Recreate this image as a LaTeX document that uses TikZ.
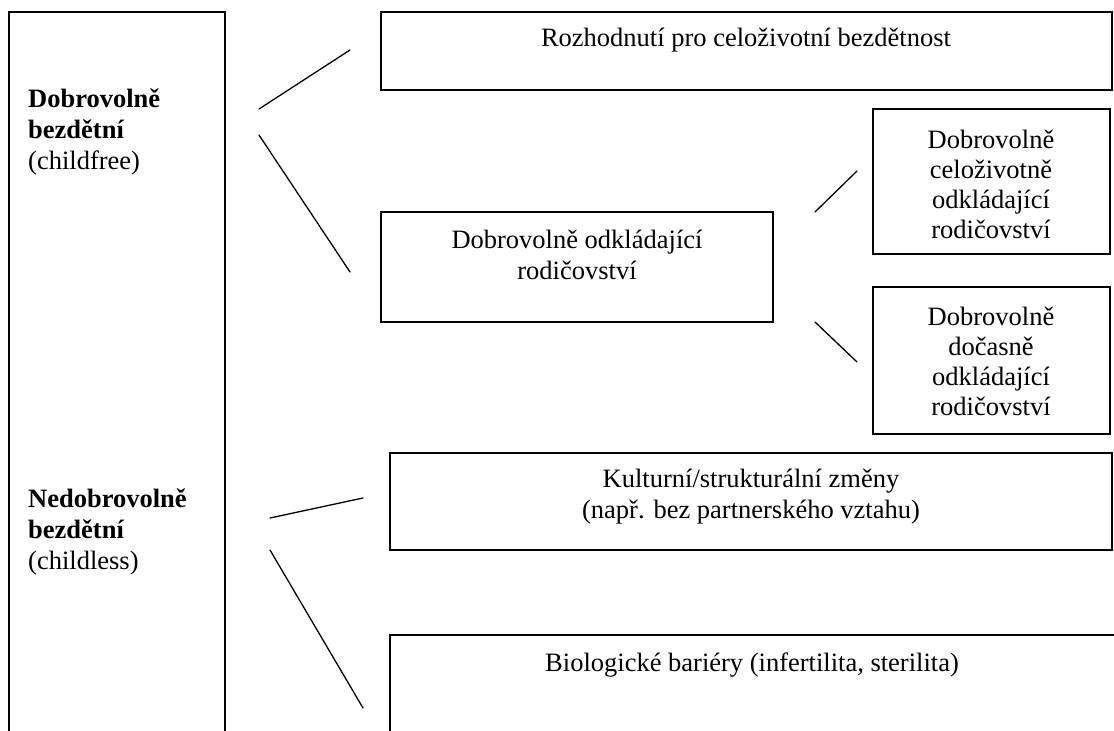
\documentclass[tikz,border=0pt]{standalone}
\usepackage{fontspec}
\setmainfont{Liberation Serif}
\usepackage{tikz}
\tikzset{
  frame/.style={draw=black, line width=1.7pt, inner sep=0pt},
  conn/.style={draw=black, line width=1.3pt, line cap=round},
  txt/.style={inner sep=0pt, align=center, font=\fontsize{26.5}{30}\selectfont},
  txtw/.style={txt, font=\fontsize{26.5}{31}\selectfont},
  side/.style={inner sep=0pt, align=left, anchor=west, font=\fontsize{26.5}{31}\selectfont},
}

\begin{document}
\begin{tikzpicture}[x=1pt, y=-1pt]
  \useasboundingbox (0,0) rectangle (1114,731);
  \clip (0,0) rectangle (1114,731);
  % frames
  \node[frame, minimum width=216pt, minimum height=788pt] (typy) at (117,406) {};
  \node[frame, minimum width=731pt, minimum height=78pt] (rozh) at (746.5,51) {};
  \node[frame, minimum width=392pt, minimum height=110pt] (odkl) at (577,267) {};
  \node[frame, minimum width=237pt, minimum height=145pt] (celoz) at (991.5,181.5) {};
  \node[frame, minimum width=237pt, minimum height=147pt] (docas) at (991.5,360.5) {};
  \node[frame, minimum width=722pt, minimum height=97pt] (kult) at (751,501.5) {};
  \node[frame, minimum width=750pt, minimum height=165pt] (biol) at (765,717.5) {};
  % texts
  \node[side] (cfree) at (28,132) {\textbf{Dobrovolně}\\\textbf{bezdětní}\\(childfree)};
  \node[side] (cless) at (28,532) {\textbf{Nedobrovolně}\\\textbf{bezdětní}\\(childless)};
  \node[txt] (rozh-t) at (746,40) {Rozhodnutí pro celoživotní bezdětnost};
  \node[txtw] (odkl-t) at (577,255) {Dobrovolně odkládající\\rodičovství};
  \node[txt] (celoz-t) at (991,184) {Dobrovolně\\celoživotně\\odkládající\\rodičovství};
  \node[txt] (docas-t) at (991,361) {Dobrovolně\\dočasně\\odkládající\\rodičovství};
  \node[txtw] (kult-t) at (751,497) {Kulturní/strukturální změny\\(např. bez partnerského vztahu)};
  \node[txt] (biol-t) at (752,665) {Biologické bariéry (infertilita, sterilita)};
  % connectors
  \coordinate (f1) at (259,109);  \coordinate (f2) at (350,50);
  \coordinate (f3) at (259,135);  \coordinate (f4) at (350,272);
  \coordinate (o1) at (815,212);  \coordinate (o2) at (857,171);
  \coordinate (o3) at (815,322);  \coordinate (o4) at (857,362);
  \coordinate (n1) at (270,518);  \coordinate (n2) at (363,498);
  \coordinate (n3) at (270,550);  \coordinate (n4) at (363,708);
  \draw[conn] (f1) -- (f2);
  \draw[conn] (f3) -- (f4);
  \draw[conn] (o1) -- (o2);
  \draw[conn] (o3) -- (o4);
  \draw[conn] (n1) -- (n2);
  \draw[conn] (n3) -- (n4);
\end{tikzpicture}
\end{document}
